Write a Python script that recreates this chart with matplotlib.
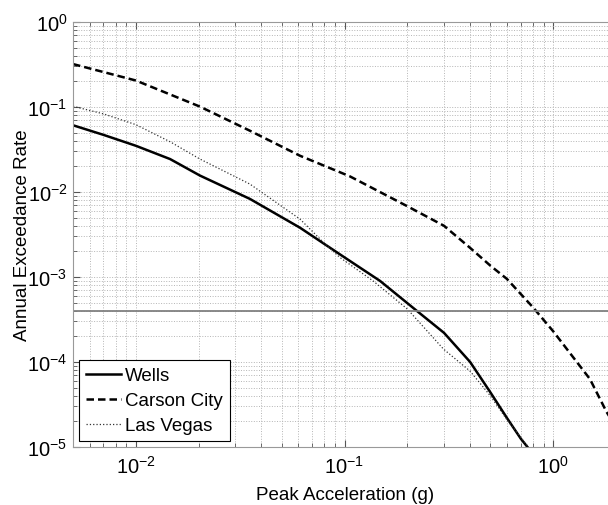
import numpy as np
import matplotlib
matplotlib.use('Agg')
import matplotlib.pyplot as plt
from matplotlib.ticker import LogLocator, NullFormatter

plt.rcParams['font.family'] = ['Liberation Sans', 'DejaVu Sans']
plt.rcParams['mathtext.fontset'] = 'custom'
plt.rcParams['mathtext.rm'] = 'Liberation Sans'
plt.rcParams['mathtext.it'] = 'Liberation Sans:italic'
plt.rcParams['axes.unicode_minus'] = False

# hazard curves
wells_pga = [0.005, 0.007, 0.01, 0.0146, 0.0203, 0.0352, 0.0612, 0.08, 0.095, 0.148, 0.222,
             0.3, 0.4, 0.5, 0.6, 0.7, 0.753]
wells_rate = [0.061, 0.047, 0.035, 0.0244, 0.0156, 0.0083, 0.0038, 0.00245, 0.00185, 9.0e-4, 4.0e-4,
              2.2e-4, 1.0e-4, 4.4e-5, 2.2e-5, 1.25e-5, 1.0e-5]

carson_pga = [0.005, 0.01, 0.0203, 0.0352, 0.0612, 0.106, 0.2, 0.3, 0.4, 0.5, 0.6, 0.8,
              1.0, 1.5, 1.8, 2.0]
carson_rate = [0.32, 0.205, 0.101, 0.0526, 0.0267, 0.0153, 0.0068, 0.004, 0.0022, 0.00136, 9.5e-4, 4.4e-4,
               2.3e-4, 6.3e-5, 2.6e-5, 1.7e-5]

vegas_pga = [0.005, 0.007, 0.01, 0.0146, 0.0203, 0.0352, 0.0612, 0.08, 0.095, 0.137, 0.2,
             0.298, 0.4, 0.5, 0.6, 0.76]
vegas_rate = [0.102, 0.083, 0.062, 0.039, 0.0244, 0.0124, 0.0048, 0.0025, 0.0017, 9.0e-4, 4.2e-4,
              1.42e-4, 7.8e-5, 4.0e-5, 2.1e-5, 1.0e-5]

target_rate = 4e-4

fig = plt.figure(figsize=(6.08, 5.06), dpi=100)
# right edge of the axes sits just past the image edge, as in the original
ax = fig.add_axes([73/608, 1 - 448/506, (616 - 73)/608, (448 - 23)/506])

ax.plot(wells_pga, wells_rate, color='k', lw=1.8, label='Wells')
ax.plot(carson_pga, carson_rate, color='k', lw=1.8, dashes=(3.0, 1.6), label='Carson City')
ax.plot(vegas_pga, vegas_rate, color='#333333', lw=0.9, linestyle=':', label='Las Vegas')
ax.axhline(target_rate, color='#808080', lw=1.3)

ax.set_xscale('log')
ax.set_yscale('log')
ax.set_xlim(0.005, 2)
ax.set_ylim(1e-5, 1)

ax.xaxis.set_major_locator(LogLocator(base=10, numticks=10))
ax.xaxis.set_minor_locator(LogLocator(base=10, subs=np.arange(2, 10), numticks=20))
ax.yaxis.set_major_locator(LogLocator(base=10, numticks=10))
ax.yaxis.set_minor_locator(LogLocator(base=10, subs=np.arange(2, 10), numticks=20))
ax.xaxis.set_minor_formatter(NullFormatter())
ax.yaxis.set_minor_formatter(NullFormatter())

ax.grid(True, which='both', color='#b5b5b5', linestyle=':', lw=0.7)
ax.tick_params(which='both', direction='in', top=True, right=True, colors='#555555', labelcolor='k', labelsize=14.5)
ax.tick_params(which='major', length=5)
ax.tick_params(which='minor', length=3)
ax.tick_params(axis='x', pad=6)
ax.tick_params(axis='y', pad=4)
for s in ax.spines.values():
    s.set_color('#999999')

ax.set_xlabel('Peak Acceleration (g)', fontsize=13.5)
ax.set_ylabel('Annual Exceedance Rate', fontsize=13.5)
ax.xaxis.set_label_coords((345 - 73) / 543, -0.092)
ax.yaxis.set_label_coords(-0.077, 0.5)

leg = ax.legend(loc='lower left', bbox_to_anchor=(0.0, 0.0), fontsize=13.5, frameon=True,
                fancybox=False, edgecolor='k', framealpha=1, handlelength=1.9,
                handletextpad=0.2, labelspacing=0.42, borderpad=0.37, borderaxespad=0.3)
leg.get_frame().set_linewidth(0.8)

plt.savefig('out.png', dpi=100)
